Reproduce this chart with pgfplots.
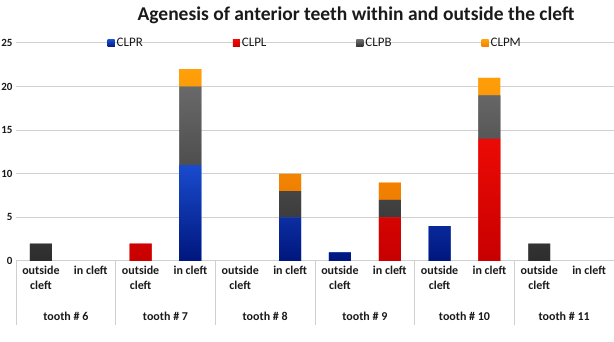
\documentclass[border=0pt]{standalone}
\usepackage{pgfplots}
\pgfplotsset{compat=1.18}
\usepackage{fontspec}
\setmainfont{Carlito}
\definecolor{txt}{HTML}{1A1A1A}
\definecolor{gridc}{HTML}{D0D0D0}
\definecolor{bluetop}{RGB}{25,75,205}
\definecolor{bluebot}{RGB}{0,22,125}
\definecolor{redtop}{RGB}{235,10,5}
\definecolor{redbot}{RGB}{200,0,0}
\definecolor{graytop}{RGB}{105,105,105}
\definecolor{graybot}{RGB}{45,45,45}
\definecolor{orgtop}{RGB}{255,160,10}
\definecolor{orgbot}{RGB}{240,125,0}
\begin{document}
\begin{tikzpicture}
\path[use as bounding box] (-16pt,-81pt) rectangle (598pt,261pt);
\begin{axis}[
  scale only axis, width=598pt, height=218pt,
  at={(0pt,0pt)}, anchor=south west,
  ymin=0, ymax=25, ytick={0,5,10,15,20,25},
  xmin=-0.5, xmax=11.5,
  xtick={0,...,11},
  xticklabels={outside\\cleft, in cleft, outside\\cleft, in cleft, outside\\cleft, in cleft, outside\\cleft, in cleft, outside\\cleft, in cleft, outside\\cleft, in cleft},
  xticklabel style={align=center, font=\fontsize{12}{15}\selectfont\bfseries, text=txt, anchor=north, yshift=-2pt},
  yticklabel style={font=\fontsize{11}{13}\selectfont\bfseries, text=txt},
  /pgf/number format/assume math mode=true,
  ymajorgrids, grid style={gridc, line width=1pt},
  axis x line*=bottom, axis y line*=left, y axis line style={draw=none},
  x axis line style={gridc, line width=1pt, -},
  major tick length=0pt,
  ybar stacked, bar width=22pt,
  clip=false,
  legend columns=4,
  legend style={draw=none, fill=none, at={(rel axis cs:0.148,1)}, anchor=west,
    font=\fontsize{13}{15}\selectfont, text=txt,
    /tikz/every even column/.append style={column sep=88pt}},
  legend image code/.code={\fill[#1] (0pt,-4pt) rectangle (7pt,3pt);},
  title={\fontsize{19.5}{23}\selectfont\bfseries Agenesis of anterior teeth within and outside the cleft},
  title style={at={(0.5,1)}, anchor=south, yshift=10pt, xshift=41pt, text=txt},
]
\addplot+[draw=none, top color=bluetop, bottom color=bluebot, fill=bluetop] coordinates {(0,0) (1,0) (2,0) (3,11) (4,0) (5,5) (6,1) (7,0) (8,4) (9,0) (10,0) (11,0)};
\addplot+[draw=none, top color=redtop, bottom color=redbot, fill=redtop] coordinates {(0,0) (1,0) (2,2) (3,0) (4,0) (5,0) (6,0) (7,5) (8,0) (9,14) (10,0) (11,0)};
\addplot+[draw=none, top color=graytop, bottom color=graybot, fill=graytop] coordinates {(0,2) (1,0) (2,0) (3,9) (4,0) (5,3) (6,0) (7,2) (8,0) (9,5) (10,2) (11,0)};
\addplot+[draw=none, top color=orgtop, bottom color=orgbot, fill=orgtop] coordinates {(0,0) (1,0) (2,0) (3,2) (4,0) (5,2) (6,0) (7,2) (8,0) (9,2) (10,0) (11,0)};
\legend{CLPR, CLPL, CLPB, CLPM}
\node[font=\fontsize{12}{14}\selectfont\bfseries, text=txt] at (axis cs:0.5,0) [yshift=-55pt] {tooth \# 6};
\node[font=\fontsize{12}{14}\selectfont\bfseries, text=txt] at (axis cs:2.5,0) [yshift=-55pt] {tooth \# 7};
\node[font=\fontsize{12}{14}\selectfont\bfseries, text=txt] at (axis cs:4.5,0) [yshift=-55pt] {tooth \# 8};
\node[font=\fontsize{12}{14}\selectfont\bfseries, text=txt] at (axis cs:6.5,0) [yshift=-55pt] {tooth \# 9};
\node[font=\fontsize{12}{14}\selectfont\bfseries, text=txt] at (axis cs:8.5,0) [yshift=-55pt] {tooth \# 10};
\node[font=\fontsize{12}{14}\selectfont\bfseries, text=txt] at (axis cs:10.5,0) [yshift=-55pt] {tooth \# 11};
\draw[gridc, line width=0.8pt] (axis cs:-0.5,0) -- ++(0pt,-64pt);
\draw[gridc, line width=0.8pt] (axis cs:1.5,0) -- ++(0pt,-64pt);
\draw[gridc, line width=0.8pt] (axis cs:3.5,0) -- ++(0pt,-64pt);
\draw[gridc, line width=0.8pt] (axis cs:5.5,0) -- ++(0pt,-64pt);
\draw[gridc, line width=0.8pt] (axis cs:7.5,0) -- ++(0pt,-64pt);
\draw[gridc, line width=0.8pt] (axis cs:9.5,0) -- ++(0pt,-64pt);
\draw[gridc, line width=0.8pt] (axis cs:11.5,0) -- ++(0pt,-64pt);
\end{axis}
\end{tikzpicture}
\end{document}
